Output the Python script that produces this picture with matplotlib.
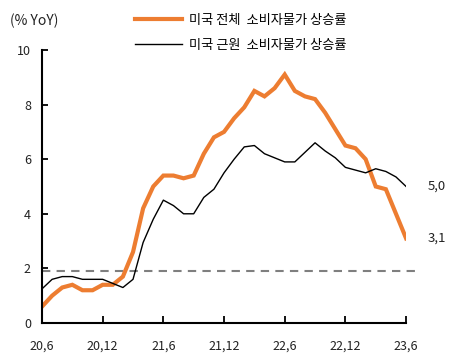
import numpy as np
import matplotlib
matplotlib.use("Agg")
import matplotlib.pyplot as plt

plt.rcParams['font.family'] = ['Noto Sans CJK KR', 'DejaVu Sans']

# monthly, 2020.6 ~ 2023.6
headline = [0.6, 1.0, 1.3, 1.4, 1.2, 1.2, 1.4,
            1.4, 1.7, 2.6, 4.2, 5.0, 5.4, 5.4, 5.3, 5.4, 6.2, 6.8, 7.0,
            7.5, 7.9, 8.5, 8.3, 8.6, 9.1, 8.5, 8.3, 8.2, 7.7, 7.1, 6.5,
            6.4, 6.0, 5.0, 4.9, 4.0, 3.1]
core = [1.25, 1.6, 1.7, 1.7, 1.6, 1.6, 1.6,
        1.45, 1.3, 1.6, 2.95, 3.8, 4.5, 4.3, 4.0, 4.0, 4.6, 4.9, 5.5,
        6.0, 6.45, 6.5, 6.2, 6.05, 5.9, 5.9, 6.25, 6.6, 6.3, 6.05, 5.7,
        5.6, 5.5, 5.65, 5.55, 5.35, 5.0]
target = 1.9
xticklabels = ['20,6', '20,12', '21,6', '21,12', '22,6', '22,12', '23,6']

orange = '#ED7D31'
x = np.arange(len(headline))

fig = plt.figure(figsize=(4.65, 3.62), dpi=100)
ax = fig.add_axes([0.0903, 0.1077, 0.783, 0.7543])

l1, = ax.plot(x, headline, color=orange, lw=3.0, solid_joinstyle='miter',
              label='미국 전체  소비자물가 상승률')
l2, = ax.plot(x, core, color='black', lw=1.0, label='미국 근원  소비자물가 상승률')
ax.plot([0, len(headline)], [target, target], color='#7f7f7f', lw=1.5,
        ls=(0, (4, 3)), clip_on=False, zorder=1)

ax.set_xlim(0, len(headline) - 1)
ax.set_ylim(0, 10)
ax.set_xticks(np.arange(0, len(headline), 6))
ax.set_xticklabels(xticklabels)
ax.set_yticks(np.arange(0, 11, 2))
ax.tick_params(axis='x', direction='in', length=5, width=1.3, pad=12,
               labelsize=9, colors='black')
ax.tick_params(axis='y', direction='in', length=4, width=1.3, pad=8,
               labelsize=9, colors='black')
for t in ax.get_xticklabels() + ax.get_yticklabels():
    t.set_color('#222222')
for s in ['top', 'right']:
    ax.spines[s].set_visible(False)
for s in ['left', 'bottom']:
    ax.spines[s].set_linewidth(1.5)

ax.text(38.1, core[-1], '5,0', ha='left', va='center', fontsize=9.5,
        color='#222222', clip_on=False)
ax.text(38.1, headline[-1], '3,1', ha='left', va='center', fontsize=9.5,
        color='#222222', clip_on=False)

fig.text(0.022, 0.942, '(% YoY)', ha='left', va='center', fontsize=10,
         color='#222222')
fig.legend(handles=[l1, l2], loc='upper left', bbox_to_anchor=(0.27, 0.988),
           frameon=False, fontsize=9.5, handlelength=3.6, handletextpad=0.5,
           labelspacing=0.95, borderaxespad=0.3)

fig.savefig('out.png', dpi=100)
